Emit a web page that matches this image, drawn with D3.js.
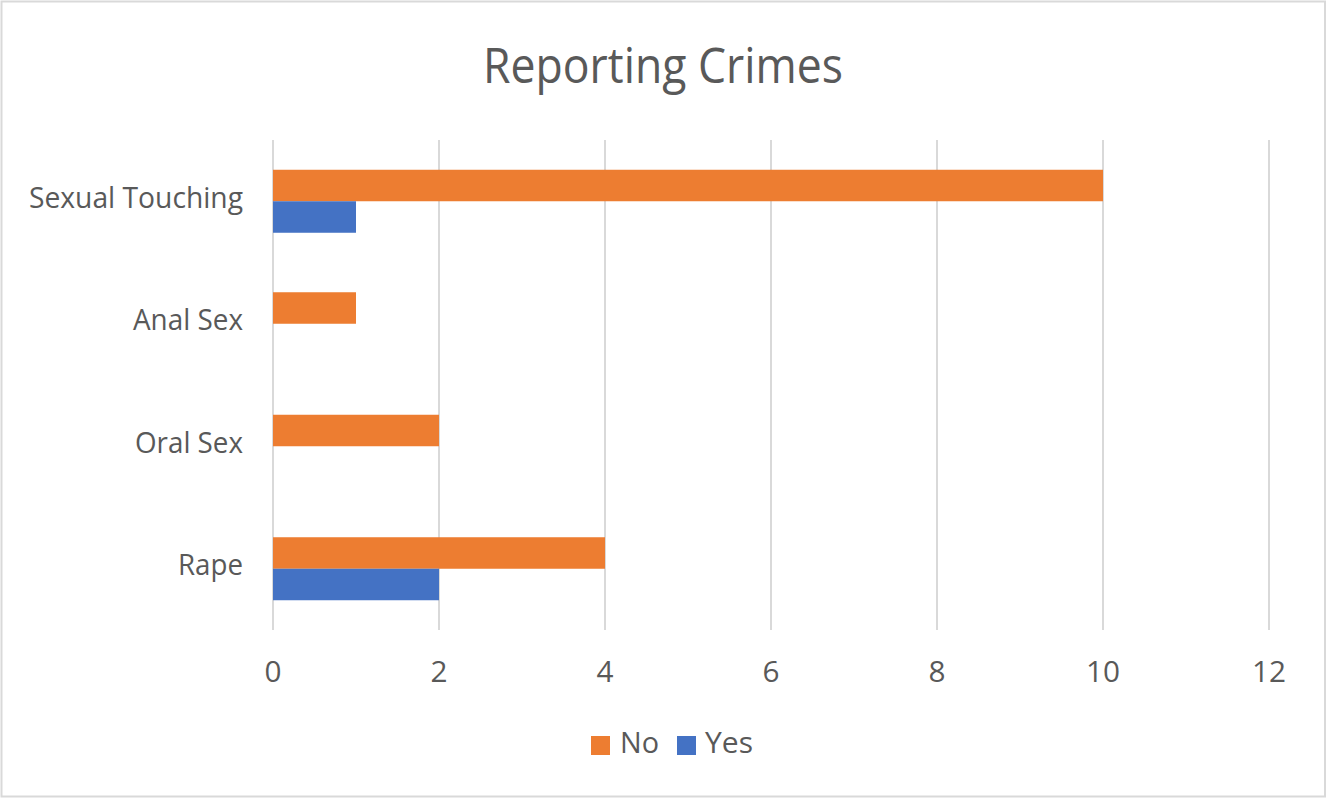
<!DOCTYPE html>
<html>
<head>
<meta charset="utf-8">
<script src="https://cdn.jsdelivr.net/npm/d3@7"></script>
<style>
  html, body { margin: 0; padding: 0; background: #fff; }
  svg text { font-family: "Open Sans", "Noto Sans", sans-serif; fill: #595959; }
</style>
</head>
<body>
<svg id="chart" width="1327" height="798"></svg>
<script>
// Crime categories, top to bottom
const categories = ["Sexual Touching", "Anal Sex", "Oral Sex", "Rape"];
// Counts per series
const seriesNames = ["No", "Yes"];
const noValues = [10, 1, 2, 4];
const yesValues = [1, 0, 0, 2];
const xTicks = [0, 2, 4, 6, 8, 10, 12];
const titleText = "Reporting Crimes";

const colors = { No: "#ED7D31", Yes: "#4472C4" };
const W = 1327, H = 798;
const plot = { left: 273, right: 1269, top: 140, bottom: 630 };

const svg = d3.select("#chart");

// Chart border
svg.append("rect")
  .attr("x", 1.5).attr("y", 1.5)
  .attr("width", W - 3.5).attr("height", H - 3)
  .attr("fill", "#fff").attr("stroke", "#d9d9d9").attr("stroke-width", 2);

const x = d3.scaleLinear().domain([0, 12]).range([plot.left, plot.right]);
const y = d3.scaleBand().domain(categories).range([plot.top, plot.bottom]).paddingInner(0.4857).paddingOuter(0.2429);
const ySub = d3.scaleBand().domain(seriesNames).range([0, y.bandwidth()]);

// Vertical gridlines
svg.append("g").selectAll("line").data(xTicks).join("line")
  .attr("x1", d => x(d)).attr("x2", d => x(d))
  .attr("y1", plot.top).attr("y2", plot.bottom)
  .attr("stroke", "#d9d9d9").attr("stroke-width", 2);

// Bars
const rows = categories.map((c, i) => ({ cat: c, No: noValues[i], Yes: yesValues[i] }));
const groups = svg.append("g").selectAll("g").data(rows).join("g")
  .attr("transform", d => `translate(0,${y(d.cat)})`);
groups.selectAll("rect")
  .data(d => seriesNames.map(s => ({ s, v: d[s] })).filter(e => e.v > 0))
  .join("rect")
  .attr("x", x(0))
  .attr("y", d => ySub(d.s))
  .attr("width", d => x(d.v) - x(0))
  .attr("height", ySub.bandwidth())
  .attr("fill", d => colors[d.s]);

// Fits text horizontally to a given width, keeping its height
function fit(sel, width) {
  sel.attr("textLength", width).attr("lengthAdjust", "spacingAndGlyphs");
}

// Category labels
const catWidths = { "Sexual Touching": 214, "Anal Sex": 110, "Oral Sex": 108, "Rape": 65 };
svg.append("g").selectAll("text").data(categories).join("text")
  .attr("x", 243)
  .attr("y", d => y(d) + y.bandwidth() / 2 + 6.5)
  .attr("text-anchor", "end")
  .attr("font-size", 29)
  .text(d => d)
  .each(function(d) { fit(d3.select(this), catWidths[d]); });

// X tick labels
svg.append("g").selectAll("text").data(xTicks).join("text")
  .attr("x", d => x(d))
  .attr("y", 682)
  .attr("text-anchor", "middle")
  .attr("font-size", 30)
  .text(d => d)
  .each(function(d) { fit(d3.select(this), d >= 10 ? 34 : 17); });

// Title
svg.append("text")
  .attr("x", 663).attr("y", 83)
  .attr("text-anchor", "middle")
  .attr("font-size", 50)
  .text(titleText)
  .call(fit, 360);

// Legend
const legendItems = [
  { s: "No", sx: 591, tx: 620, tw: 39 },
  { s: "Yes", sx: 677, tx: 705, tw: 48 }
];
const lg = svg.append("g");
lg.selectAll("rect").data(legendItems).join("rect")
  .attr("x", d => d.sx).attr("y", 736)
  .attr("width", 19).attr("height", 19)
  .attr("fill", d => colors[d.s]);
lg.selectAll("text").data(legendItems).join("text")
  .attr("x", d => d.tx).attr("y", 753)
  .attr("font-size", 30)
  .text(d => d.s)
  .each(function(d) { fit(d3.select(this), d.tw); });
</script>
</body>
</html>
